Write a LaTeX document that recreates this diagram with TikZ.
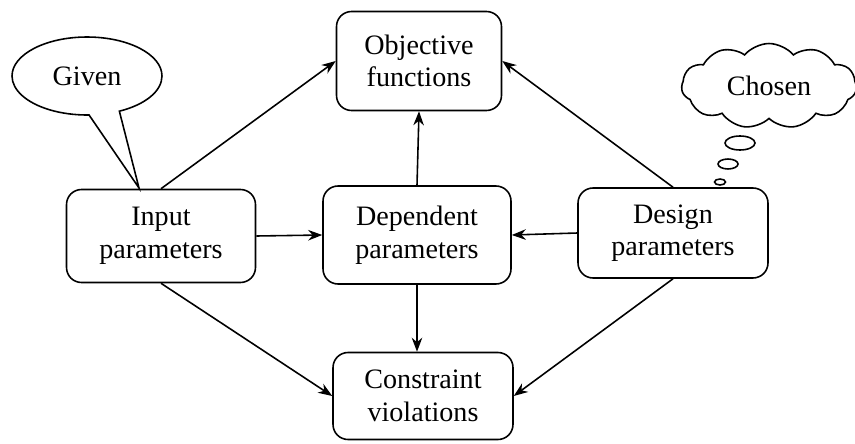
\documentclass[tikz,border=0pt]{standalone}
\usepackage{fontspec}
\setmainfont{Liberation Serif}
\usetikzlibrary{shapes.callouts,shapes.symbols,arrows.meta}
\tikzset{
  block/.style={draw, rounded corners=0.3cm, fill=white, align=center,
    line width=0.9pt, inner sep=0pt, font=\rmfamily\fontsize{16}{18.5}\selectfont},
  link/.style={-{Stealth[length=8pt,width=6pt]}, line width=0.9pt},
  bubble/.style={draw, fill=white, line width=0.9pt, inner sep=0pt,
    font=\rmfamily\fontsize{16}{18.5}\selectfont},
}
\begin{document}
\begin{tikzpicture}[x=0.02cm, y=-0.02cm]
    \useasboundingbox (0,0) rectangle (855,443);
    \node[block, minimum width=3.3cm, minimum height=1.98cm] (obj) at (419,61) {Objective\\functions};
    \node[block, minimum width=3.78cm, minimum height=1.86cm] (inp) at (161,236) {Input\\parameters};
    \node[block, minimum width=3.76cm, minimum height=1.96cm] (dep) at (417,235) {Dependent\\parameters};
    \node[block, minimum width=3.8cm, minimum height=1.8cm] (des) at (673,233) {Design\\parameters};
    \node[block, minimum width=3.6cm, minimum height=1.74cm] (con) at (423,396) {Constraint\\violations};
    % callouts
    \coordinate (giventip) at (139,188);
    \node[bubble, ellipse callout, minimum width=3cm, minimum height=1.56cm,
      callout pointer arc=24, callout absolute pointer={(giventip)}] (given) at (87,76) {Given};
    \node[bubble, cloud, cloud puffs=11, cloud puff arc=100, cloud ignores aspect,
      minimum width=3.5cm, minimum height=1.7cm] (chosen) at (769,86) {Chosen};
    \draw[line width=0.9pt, fill=white] (740,143) ellipse (0.3cm and 0.14cm);
    \draw[line width=0.9pt, fill=white] (728,164) ellipse (0.2cm and 0.1cm);
    \draw[line width=0.9pt, fill=white] (720,182) ellipse (0.11cm and 0.06cm);
    % connections
    \draw[link] (inp.north) -- (obj.west);
    \draw[link] (des.north) -- (obj.east);
    \draw[link] (dep.north) -- (obj.south);
    \draw[link] (inp.east) -- (dep.west);
    \draw[link] (des.west) -- (dep.east);
    \draw[link] (dep.south) -- (dep.south |- con.north);
    \draw[link] (inp.south) -- (con.west);
    \draw[link] (des.south) -- (con.east);
\end{tikzpicture}
\end{document}
